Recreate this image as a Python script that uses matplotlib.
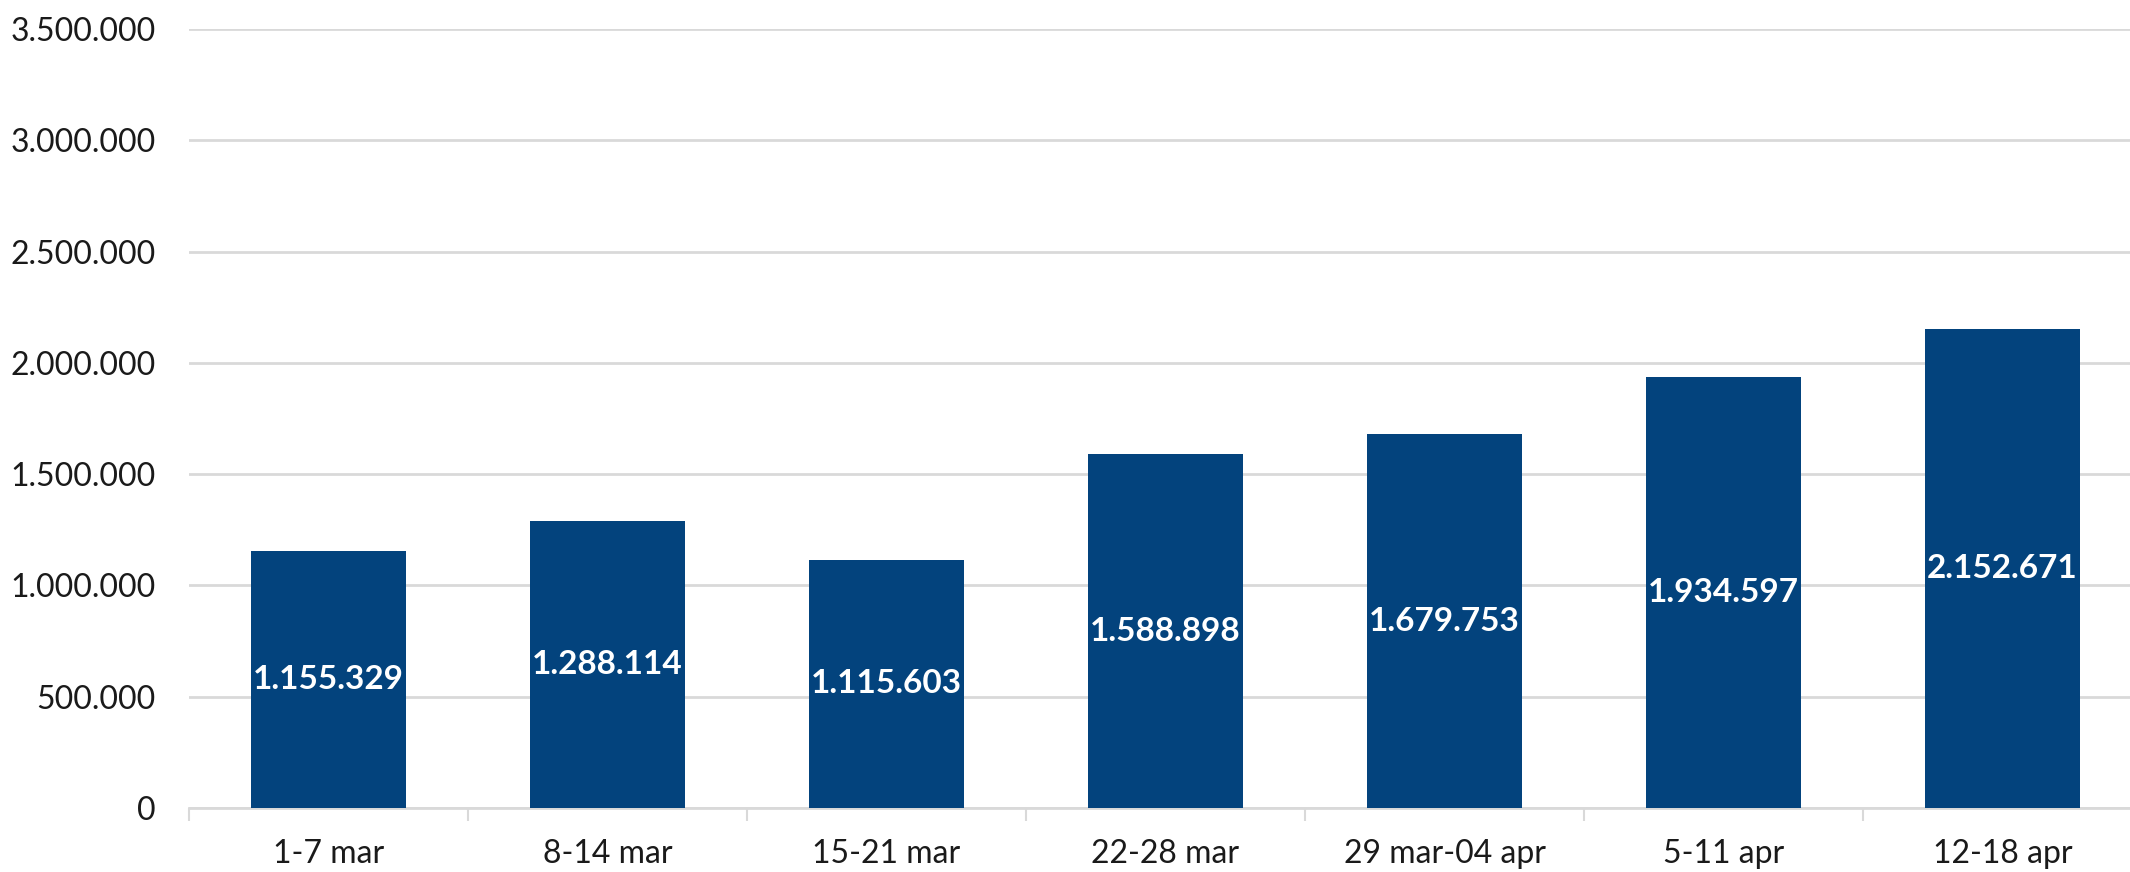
import matplotlib.pyplot as plt
import numpy as np
from matplotlib.ticker import FuncFormatter

weeks = ["1-7 mar", "8-14 mar", "15-21 mar", "22-28 mar", "29 mar-04 apr", "5-11 apr", "12-18 apr"]
values = [1155329, 1288114, 1115603, 1588898, 1679753, 1934597, 2152671]
yticks = [0, 500000, 1000000, 1500000, 2000000, 2500000, 3000000, 3500000]

plt.rcParams['font.family'] = ['Lato', 'DejaVu Sans']

def dots(v):
    return "{:,}".format(int(v)).replace(",", ".")

W, H = 2130, 872
fig = plt.figure(figsize=(W / 100, H / 100), dpi=100)
# axes runs a little past the right edge, like the cropped original
ax = fig.add_axes([189 / W, (H - 808) / H, 1953 / W, (808 - 29) / H])

x = np.arange(len(weeks))
bars = ax.bar(x, values, width=0.555, color="#03437D", zorder=3)

for b, v in zip(bars, values):
    ax.text(b.get_x() + b.get_width() / 2, v / 2, dots(v), ha="center", va="center",
            color="white", fontsize=24, fontweight="bold", zorder=4)

ax.set_xlim(-0.5, len(weeks) - 0.5)
ax.set_ylim(0, 3500000)
ax.set_yticks(yticks)
ax.yaxis.set_major_formatter(FuncFormatter(lambda v, p: dots(v)))
ax.grid(axis="y", color="#d9d9d9", linewidth=2, zorder=0)

ax.set_xticks(x)
ax.set_xticklabels(weeks)
ax.set_xticks(np.arange(len(weeks) + 1) - 0.5, minor=True)
ax.tick_params(axis="x", which="major", length=0, pad=22, labelsize=23, labelcolor="#1a1a1a")
ax.tick_params(axis="x", which="minor", length=9, width=1.5, color="#d9d9d9")
ax.tick_params(axis="y", length=0, pad=24, labelsize=23, labelcolor="#1a1a1a")

for s in ["top", "right", "left"]:
    ax.spines[s].set_visible(False)
ax.spines["bottom"].set_color("#d9d9d9")
ax.spines["bottom"].set_linewidth(2)

plt.savefig("out.png", dpi=100)
